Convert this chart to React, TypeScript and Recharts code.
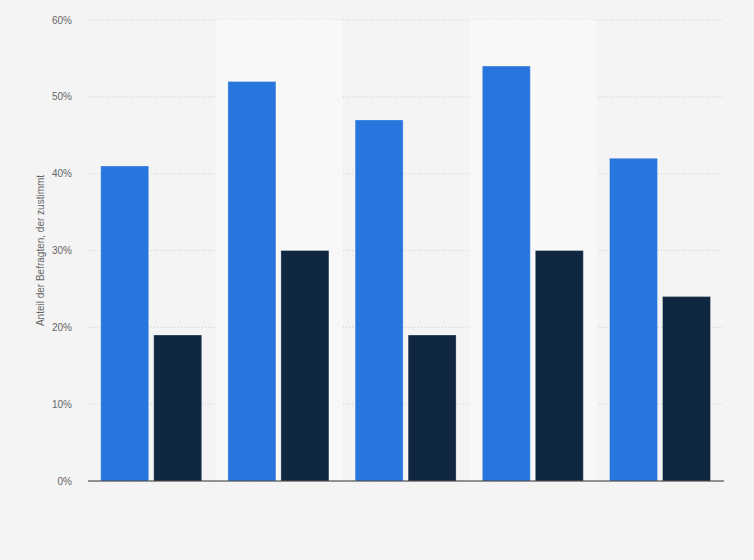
import React from "react";
import { BarChart, Bar, XAxis, YAxis, CartesianGrid, ReferenceArea } from "recharts";

const categories = ["A", "B", "C", "D", "E"];
const series1 = [41, 52, 47, 54, 42];
const series2 = [19, 30, 19, 30, 24];
const yTicks = [0, 10, 20, 30, 40, 50, 60];
const bandCategories = ["B", "D"];

const data = categories.map((c, i) => ({ name: c, s1: series1[i], s2: series2[i] }));

export default function App() {
  return (
    <div style={{ width: 754, height: 560, background: "#f4f4f4" }}>
      <style>{`body{margin:0;}`}</style>
      <BarChart
        width={754}
        height={560}
        data={data}
        margin={{ top: 20, right: 30, bottom: 78, left: 0 }}
        barCategoryGap="10%"
        barGap={5}
      >
        {bandCategories.map((b) => (
          <ReferenceArea key={b} x1={b} x2={b} fill="#f8f8f8" fillOpacity={1} stroke="none" ifOverflow="extendDomain" />
        ))}
        <CartesianGrid vertical={false} stroke="#cfcfcf" strokeDasharray="1 2" />
        <XAxis dataKey="name" tick={false} tickLine={false} height={1} axisLine={{ stroke: "#333", strokeWidth: 1 }} />
        <YAxis
          width={88}
          domain={[0, 60]}
          ticks={yTicks}
          tickFormatter={(v) => `${v}%`}
          axisLine={false}
          tickLine={false}
          tickSize={0}
          tickMargin={16}
          tick={{ fill: "#666", fontSize: 10, fontFamily: "Liberation Sans, Arial, sans-serif" }}
          label={{
            value: "Anteil der Befragten, der zustimmt",
            angle: -90,
            position: "center",
            dx: -4,
            fill: "#666",
            fontSize: 10,
            fontFamily: "Liberation Sans, Arial, sans-serif",
          }}
        />
        <Bar dataKey="s1" fill="#2876dd" stroke="#ffffff" strokeOpacity={0.3} isAnimationActive={false} />
        <Bar dataKey="s2" fill="#0f2740" stroke="#ffffff" strokeOpacity={0.3} isAnimationActive={false} />
      </BarChart>
    </div>
  );
}
